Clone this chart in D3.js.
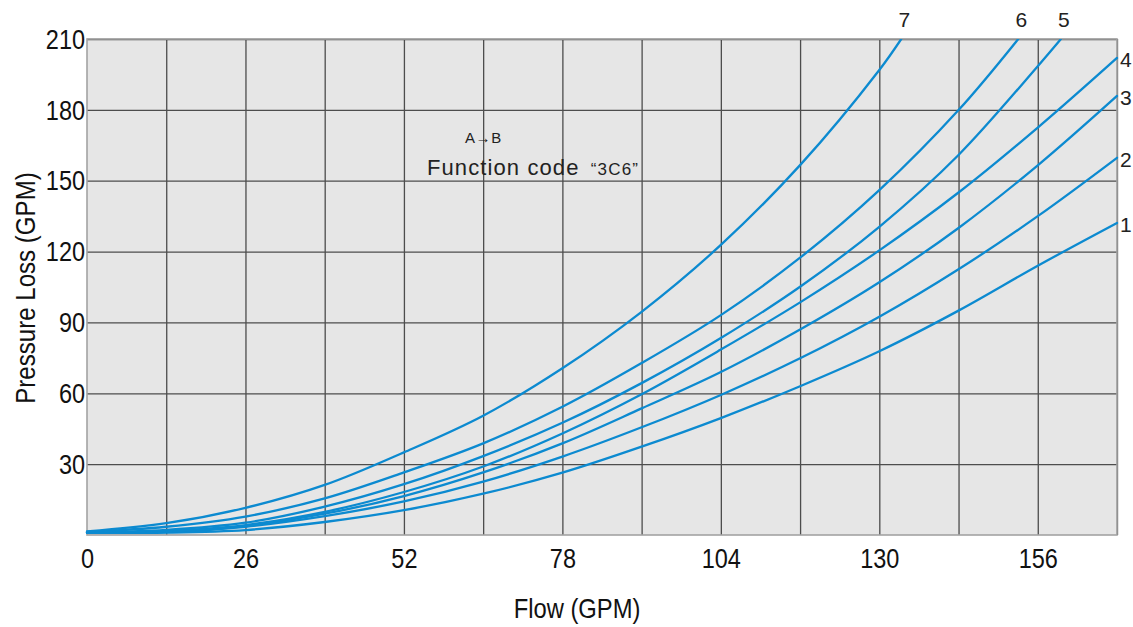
<!DOCTYPE html>
<html>
<head>
<meta charset="utf-8">
<script src="https://cdn.jsdelivr.net/npm/d3@7"></script>
<style>
  html, body { margin: 0; padding: 0; background: #fff; }
  svg { display: block; font-family: "Liberation Sans", Arial, Helvetica, sans-serif; }
</style>
</head>
<body>
<svg id="chart" width="1133" height="627"></svg>
<script>
// Flow sample points (GPM) shared by the curves
const flow = [0, 13, 26, 39, 52, 65, 78, 91, 104, 117, 130, 143, 156, 169];

// Pressure loss per curve at the flow points above; curves that leave the
// top of the chart end with their own last point
const curve1 = [0.9, 1.0, 2.1, 5.5, 10.5, 17.5, 26.4, 37.4, 49.5, 63.0, 77.8, 95.0, 114.0, 132.1];
const curve2 = [1.0, 1.2, 3.5, 8.0, 14.2, 22.6, 33.2, 45.6, 59.3, 74.8, 92.4, 112.5, 135.0, 159.7];
const curve3 = [1.0, 1.4, 3.8, 9.0, 16.5, 26.5, 38.8, 53.6, 69.0, 87.0, 107.0, 130.0, 156.5, 185.9];
const curve4 = [1.1, 1.7, 4.2, 9.8, 18.2, 29.0, 43.0, 59.6, 78.5, 98.5, 120.5, 145.0, 172.5, 202.0];
const curve5 = [1.2, 2.2, 5.2, 12.0, 21.5, 33.4, 47.5, 64.3, 83.4, 105.1, 130.5, 160.9, 198.5];
const curve6 = [1.3, 3.5, 7.8, 15.5, 26.5, 38.8, 54.3, 72.8, 93.1, 117.4, 146.0, 179.9];
const curve7 = [1.5, 5.0, 11.5, 21.2, 35.0, 50.5, 70.6, 94.5, 122.8, 156.6, 196.9];

// End points where the steep curves reach the top of the scale
const curve5End = [159.8, 210];
const curve6End = [152.8, 210];
const curve7End = [133.6, 210];

const curveNames = ["1", "2", "3", "4", "5", "6", "7"];

// Axis ticks
const xTicks = [0, 26, 52, 78, 104, 130, 156];
const yTicks = [30, 60, 90, 120, 150, 180, 210];
const xGrid = d3.range(0, 170, 13);
const yGrid = d3.range(30, 211, 30);

const annotation = { flowDir: "A→B", title: "Function code ", code: "“3C6”" };

// Build point lists
function pts(vals, end) {
  const p = vals.map((v, i) => [flow[i], v]);
  if (end) p.push(end);
  return p;
}
const series = [
  pts(curve1), pts(curve2), pts(curve3), pts(curve4),
  pts(curve5, curve5End), pts(curve6, curve6End), pts(curve7, curve7End)
];

const svg = d3.select("#chart");
const margin = { left: 87, top: 39 };
const W = 1117 - 87, H = 535 - 39;

const x = d3.scaleLinear().domain([0, 169]).range([0, W]);
const y = d3.scaleLinear().domain([0, 210]).range([H, 0]);

const g = svg.append("g").attr("transform", `translate(${margin.left},${margin.top})`);

// Plot background
g.append("rect")
  .attr("width", W).attr("height", H)
  .attr("fill", "#e6e6e6");

// Grid
const gridX = g.append("g")
  .attr("transform", `translate(0,${H})`)
  .call(d3.axisBottom(x).tickValues(xGrid.slice(1)).tickSize(-H).tickFormat(""));
const gridY = g.append("g")
  .call(d3.axisLeft(y).tickValues(yGrid).tickSize(-W).tickFormat(""));
[gridX, gridY].forEach(gr => {
  gr.select(".domain").remove();
  gr.selectAll("line").attr("stroke", "#4d4d4d").attr("stroke-width", 1.3);
});

// Frame
g.append("rect")
  .attr("width", W).attr("height", H)
  .attr("fill", "none")
  .attr("stroke", "#a3a3a3").attr("stroke-width", 1.6);

// Curves
g.append("clipPath").attr("id", "plotClip")
  .append("rect").attr("x", -2).attr("y", 0).attr("width", W + 4).attr("height", H + 2);

const line = d3.line()
  .x(d => x(d[0]))
  .y(d => y(d[1]))
  .curve(d3.curveCatmullRom.alpha(0.5));

g.append("g").attr("clip-path", "url(#plotClip)")
  .selectAll("path").data(series).join("path")
  .attr("d", line)
  .attr("fill", "none")
  .attr("stroke", "#0c8ad0")
  .attr("stroke-width", 2.3)
  .attr("stroke-linecap", "round");

// Tick labels (narrow figures)
const sx = 0.87;
const xAxis = g.append("g")
  .attr("transform", `translate(0,${H})`)
  .call(d3.axisBottom(x).tickValues(xTicks).tickSize(0).tickPadding(0));
xAxis.select(".domain").remove();
xAxis.selectAll("text")
  .attr("y", 33).attr("dy", null)
  .attr("transform", `scale(${sx},1)`)
  .attr("font-size", 27).attr("fill", "#111")
  .attr("font-family", "'Liberation Sans', Arial, sans-serif");

const yAxis = g.append("g")
  .call(d3.axisLeft(y).tickValues(yTicks).tickSize(0).tickPadding(0));
yAxis.select(".domain").remove();
yAxis.selectAll("text")
  .attr("x", -2 / sx).attr("dy", "0.34em")
  .attr("transform", `scale(${sx},1)`)
  .attr("font-size", 27).attr("fill", "#111")
  .attr("font-family", "'Liberation Sans', Arial, sans-serif");

// Axis titles
svg.append("text")
  .attr("transform", `translate(577,618) scale(0.88,1)`)
  .attr("text-anchor", "middle")
  .attr("font-size", 27).attr("fill", "#111")
  .text("Flow (GPM)");

svg.append("text")
  .attr("transform", `translate(35,288) rotate(-90) scale(0.86,1)`)
  .attr("text-anchor", "middle")
  .attr("font-size", 28).attr("fill", "#111")
  .text("Pressure Loss (GPM)");

// Curve labels
const topEnds = [curve5End, curve6End, curve7End];
svg.selectAll("text.topLabel").data([4, 5, 6]).join("text")
  .attr("class", "topLabel")
  .attr("x", (k, i) => margin.left + x(topEnds[i][0]) + 3)
  .attr("y", 27)
  .attr("text-anchor", "middle")
  .attr("font-size", 21).attr("fill", "#222")
  .text(k => curveNames[k]);

svg.selectAll("text.sideLabel").data([0, 1, 2, 3]).join("text")
  .attr("class", "sideLabel")
  .attr("x", 1120)
  .attr("y", k => margin.top + y(series[k][series[k].length - 1][1]) + 2)
  .attr("dy", "0.35em")
  .attr("font-size", 21).attr("fill", "#222")
  .text(k => curveNames[k]);

// Annotation
svg.append("text")
  .attr("x", 465).attr("y", 143)
  .attr("font-size", 15).attr("fill", "#222")
  .attr("letter-spacing", 0.6)
  .text(annotation.flowDir);

const t = svg.append("text")
  .attr("x", 427).attr("y", 175)
  .attr("fill", "#222");
t.append("tspan").attr("font-size", 22).attr("letter-spacing", 1.1).text(annotation.title);
t.append("tspan").attr("font-size", 17).attr("letter-spacing", 1.2).attr("dx", 4).text(annotation.code);
</script>
</body>
</html>
